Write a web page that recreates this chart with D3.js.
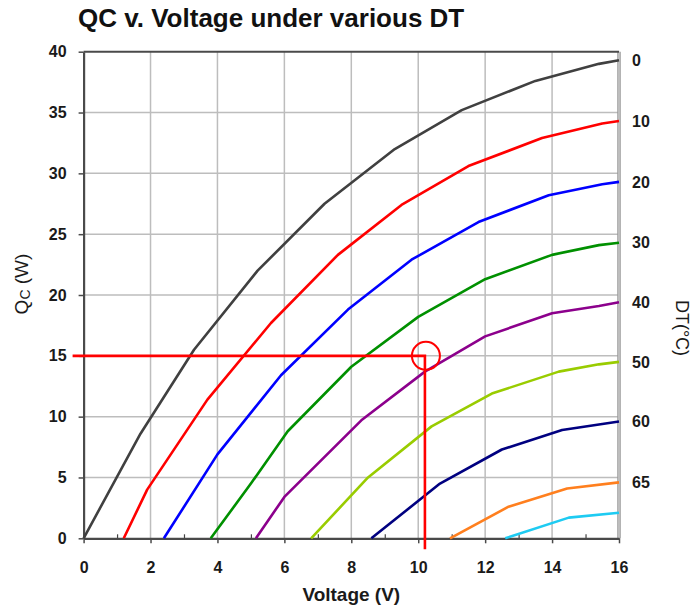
<!DOCTYPE html>
<html>
<head>
<meta charset="utf-8">
<script src="https://cdn.jsdelivr.net/npm/d3@7"></script>
<style>
    body { margin: 0; background: #fff; }
    text { font-family: "Liberation Sans", Arial, sans-serif; }
</style>
</head>
<body>
<div id="GUI"></div>
<script>
//QC vs voltage curves, one line per DT
const dtLabels = ["0", "10", "20", "30", "40", "50", "60", "65", ""];
const dtColors = ["#404040", "#ff0000", "#0000ff", "#009000", "#8c008c", "#99cc00", "#000080", "#ff7f1e", "#1ecbf2"];

const dt0 = [[0, 0], [1.7, 8.6], [3.3, 15.5], [5.2, 22.0], [7.2, 27.5], [9.3, 32.0], [11.3, 35.2], [13.5, 37.6], [15.4, 39.0], [16, 39.3]];
const dt10 = [[1.2, 0], [1.9, 4.0], [3.7, 11.4], [5.6, 17.7], [7.6, 23.3], [9.5, 27.4], [11.5, 30.6], [13.7, 32.9], [15.5, 34.1], [16, 34.3]];
const dt20 = [[2.4, 0], [4.0, 6.9], [5.9, 13.4], [7.9, 18.8], [9.8, 22.9], [11.8, 26.0], [13.9, 28.2], [15.5, 29.1], [16, 29.3]];
const dt30 = [[3.8, 0], [5.0, 4.5], [6.1, 8.8], [8.0, 14.1], [10.0, 18.2], [12.0, 21.3], [14.0, 23.3], [15.4, 24.1], [16, 24.3]];
const dt40 = [[5.15, 0], [6.0, 3.4], [8.3, 9.7], [10.2, 13.7], [12.0, 16.6], [14.0, 18.5], [15.4, 19.1], [16, 19.4]];
const dt50 = [[6.8, 0], [8.5, 5.0], [10.4, 9.2], [12.2, 11.9], [14.2, 13.7], [15.4, 14.3], [16, 14.5]];
const dt60 = [[8.6, 0], [10.65, 4.5], [12.5, 7.3], [14.3, 8.9], [16, 9.6]];
const dt65 = [[10.95, 0], [12.7, 2.6], [14.45, 4.1], [16, 4.6]];
const dtExtra = [[12.6, 0], [14.5, 1.7], [16, 2.1]];

const curves = [dt0, dt10, dt20, dt30, dt40, dt50, dt60, dt65, dtExtra];

const xTicks = d3.range(0, 17, 2);
const xMinor = d3.range(1, 16, 2);
const yTicks = d3.range(0, 41, 5);

// operating point marker (15 W at about 10.2 V)
const opPoint = {v: 10.2, q: 15};

draw();

function draw() {

    const width = 696, height = 611;

    let svg = d3.select("#GUI")
        .append("svg")
        .attr("width", width)
        .attr("height", height);

    let x = d3.scaleLinear().domain([0, 16]).range([83.6, 619]);
    let y = d3.scaleLinear().domain([0, 40]).range([538.3, 51.7]);

    /*
    GRID
     */
    svg.append("g").selectAll("line")
        .data(xTicks.filter(d => d > 0 && d < 16))
        .enter().append("line")
        .attr("x1", d => x(d)).attr("x2", d => x(d))
        .attr("y1", y(0)).attr("y2", y(40))
        .attr("stroke", "#bdbdbd")
        .attr("stroke-width", 1.5);

    svg.append("g").selectAll("line")
        .data(yTicks.filter(d => d > 0 && d < 40))
        .enter().append("line")
        .attr("x1", x(0)).attr("x2", x(16))
        .attr("y1", d => y(d)).attr("y2", d => y(d))
        .attr("stroke", "#bdbdbd")
        .attr("stroke-width", 1.5);

    // right border is a double grey line, top is dark
    svg.append("line")
        .attr("x1", x(16)).attr("x2", x(16))
        .attr("y1", y(0)).attr("y2", y(40))
        .attr("stroke", "#9a9a9a")
        .attr("stroke-width", 3.5);
    svg.append("line")
        .attr("x1", x(16)).attr("x2", x(16))
        .attr("y1", y(0)).attr("y2", y(40))
        .attr("stroke", "#e0e0e0")
        .attr("stroke-width", 1);
    svg.append("line")
        .attr("x1", x(0)).attr("x2", x(16))
        .attr("y1", y(40)).attr("y2", y(40))
        .attr("stroke", "#4a4a4a")
        .attr("stroke-width", 2);

    /*
    AXES
     */
    let xAxis = svg.append("g")
        .attr("transform", "translate(0," + y(0) + ")")
        .call(d3.axisBottom(x).tickValues(xTicks).tickSize(5).tickSizeOuter(0).tickPadding(18));

    svg.append("g")
        .attr("transform", "translate(0," + y(0) + ")")
        .call(d3.axisBottom(x).tickValues(xMinor).tickSize(-4).tickSizeOuter(0).tickFormat(""))
        .call(g => g.select(".domain").remove())
        .selectAll("line").attr("stroke", "#444").attr("stroke-width", 1.2);

    let yAxis = svg.append("g")
        .attr("transform", "translate(" + x(0) + ",0)")
        .call(d3.axisLeft(y).tickValues(yTicks).tickSize(5).tickSizeOuter(0).tickPadding(12));

    [xAxis, yAxis].forEach(function (g) {
        g.select(".domain").attr("stroke", "#4a4a4a").attr("stroke-width", 2.2);
        g.selectAll(".tick line").attr("stroke", "#4a4a4a").attr("stroke-width", 1.5);
        g.selectAll("text")
            .attr("fill", "#1a1a1a")
            .style("font-size", "16px")
            .style("font-weight", "bold")
            .style("font-family", "'Liberation Sans', Arial, sans-serif");
    });

    /*
    CURVES
     */
    let line = d3.line()
        .x(d => x(d[0]))
        .y(d => y(d[1]));

    svg.append("g").selectAll("path")
        .data(curves)
        .enter().append("path")
        .attr("d", line)
        .attr("fill", "none")
        .attr("stroke", (d, i) => dtColors[i])
        .attr("stroke-width", 2.6)
        .attr("stroke-linejoin", "round");

    // DT labels at the right end of each curve
    svg.append("g").selectAll("text")
        .data(curves)
        .enter().append("text")
        .attr("x", 632)
        .attr("y", d => y(d[d.length - 1][1]))
        .attr("dy", "0.36em")
        .text((d, i) => dtLabels[i])
        .attr("fill", "#1a1a1a")
        .style("font-size", "16px")
        .style("font-weight", "bold");

    /*
    OPERATING POINT
     */
    svg.append("path")
        .attr("d", "M" + (x(0) - 11) + "," + y(opPoint.q) +
            " L" + x(opPoint.v) + "," + y(opPoint.q) +
            " L" + x(opPoint.v) + "," + (y(0) + 11))
        .attr("fill", "none")
        .attr("stroke", "#ff0000")
        .attr("stroke-width", 2.6);

    svg.append("circle")
        .attr("cx", x(opPoint.v) + 1)
        .attr("cy", y(opPoint.q))
        .attr("r", 14)
        .attr("fill", "none")
        .attr("stroke", "#ff0000")
        .attr("stroke-width", 2);

    /*
    TITLES
     */
    svg.append("text")
        .attr("x", 78)
        .attr("y", 27)
        .text("QC v. Voltage under various DT")
        .attr("fill", "#111")
        .style("font-size", "26px")
        .style("font-weight", "bold");

    svg.append("text")
        .attr("x", (x(0) + x(16)) / 2)
        .attr("y", 601)
        .attr("text-anchor", "middle")
        .text("Voltage (V)")
        .attr("fill", "#1a1a1a")
        .style("font-size", "19px")
        .style("font-weight", "bold");

    let qLabel = svg.append("text")
        .attr("transform", "translate(28,284) rotate(-90)")
        .attr("text-anchor", "middle")
        .attr("fill", "#1a1a1a")
        .style("font-size", "19px");
    qLabel.append("tspan").text("Q");
    qLabel.append("tspan").text("C").style("font-size", "14px").attr("dy", 2);
    qLabel.append("tspan").text(" (W)").attr("dy", -2);

    svg.append("text")
        .attr("transform", "translate(676,328) rotate(90)")
        .attr("text-anchor", "middle")
        .text("DT(°C)")
        .attr("fill", "#1a1a1a")
        .style("font-size", "18px");
}
</script>
</body>
</html>
